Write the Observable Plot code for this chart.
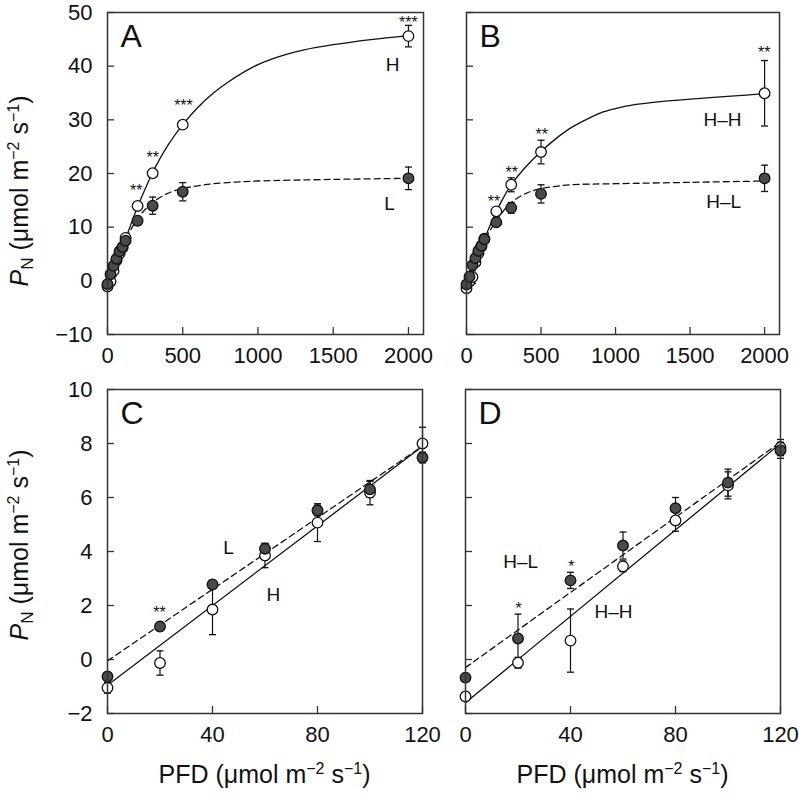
<!DOCTYPE html>
<html><head><meta charset="utf-8">
<script src="https://cdn.jsdelivr.net/npm/d3@7"></script>
<script src="https://cdn.jsdelivr.net/npm/@observablehq/plot@0.6"></script>
<style>
body{margin:0;background:#fff;}
#wrap{position:relative;width:799px;height:798px;background:#fff;}
#wrap svg{position:absolute;overflow:visible;}
</style></head><body><div id="wrap"></div>
<script>
// ---------- data ----------
const PFD = [0, 20, 40, 60, 80, 100, 120, 200, 300, 500, 2000];
// Panel A / C (plants grown at H and L)
const H_mean = [-1.05, -0.13, 1.85, 3.85, 5.07, 6.18, 8.0, 13.95, 20.05, 29.1, 45.6];
const H_err  = [0.2, 0.45, 0.93, 0.45, 0.7, 0.45, 0.6, 0.5, 0.6, 0.6, 2.0];
const L_mean = [-0.63, 1.22, 2.78, 4.1, 5.52, 6.3, 7.48, 11.2, 14.0, 16.6, 19.1];
const L_err  = [0.15, 0.15, 0.15, 0.2, 0.2, 0.3, 0.2, 0.5, 1.6, 1.7, 2.1];
// Panel B / D (H–H and H–L)
const HH_mean = [-1.37, -0.12, 0.7, 3.45, 5.15, 6.45, 7.85, 12.95, 17.9, 24.0, 34.95];
const HH_err  = [0.15, 0.2, 1.17, 0.2, 0.4, 0.5, 0.3, 0.6, 1.3, 2.2, 6.1];
const HL_mean = [-0.67, 0.78, 2.93, 4.22, 5.6, 6.55, 7.75, 10.9, 13.6, 16.2, 19.1];
const HL_err  = [0.15, 0.9, 0.3, 0.5, 0.4, 0.5, 0.3, 0.3, 1.0, 1.7, 2.45];

// fitted light-response curves
const fitX_A_H = [0, 50, 100, 150, 200, 250, 300, 400, 500, 600, 700, 800, 900, 1000, 1100, 1200, 1300, 1500, 1750, 2000];
const fitY_A_H = [-1.1, 2.6, 6.3, 10.1, 13.8, 17.1, 20.2, 25.2, 29.1, 32.3, 34.9, 37.0, 38.8, 40.3, 41.4, 42.3, 43.0, 44.0, 44.95, 45.7];
const fitX_A_L = [0, 50, 100, 150, 200, 250, 300, 400, 500, 600, 700, 850, 1000, 1500, 2000];
const fitY_A_L = [-0.7, 3.0, 6.5, 9.3, 11.6, 13.3, 14.6, 16.3, 17.2, 17.7, 18.1, 18.4, 18.6, 18.9, 19.1];
const fitX_B_HH = [0, 50, 100, 150, 200, 250, 300, 400, 500, 600, 700, 800, 900, 1000, 1100, 1300, 1550, 1800, 2000];
const fitY_B_HH = [-1.5, 2.3, 6.2, 9.8, 12.9, 15.6, 17.9, 21.3, 24.1, 26.5, 28.5, 30.0, 31.3, 32.1, 32.7, 33.4, 33.95, 34.45, 34.9];
const fitX_B_HL = [0, 50, 100, 150, 200, 250, 300, 400, 500, 600, 700, 1000, 1500, 2000];
const fitY_B_HL = [-0.7, 3.0, 6.5, 9.0, 11.2, 13.1, 14.6, 16.3, 17.2, 17.6, 17.9, 18.1, 18.35, 18.6];
// linear regressions at low PFD
const lineX = [0, 120];
const lineY_C_H = [-0.95, 7.9];
const lineY_C_L = [-0.05, 7.9];
const lineY_D_HH = [-1.6, 8.0];
const lineY_D_HL = [-0.3, 8.05];

// tick values
const xTicksTop = [0, 500, 1000, 1500, 2000];
const yTicksTop = [-10, 0, 10, 20, 30, 40, 50];
const xTicksBot = [0, 40, 80, 120];
const yTicksBot = [-2, 0, 2, 4, 6, 8, 10];

// significance marks and curve labels (data coordinates)
const starsA = [{x: 191, y: 17.6, t: "**"}, {x: 300, y: 23.7, t: "**"}, {x: 505, y: 33.4, t: "***"}, {x: 1999, y: 48.9, t: "***"}];
const starsB = [{x: 184, y: 15.5, t: "**"}, {x: 303, y: 20.9, t: "**"}, {x: 505, y: 28.0, t: "**"}, {x: 1998, y: 43.3, t: "**"}];
const starsC = [{x: 19.8, y: 1.89, t: "**"}];
const starsD = [{x: 20.2, y: 2.04, t: "*"}, {x: 40.3, y: 3.58, t: "*"}];
const labelsA = [{x: 1894, y: 40.3, t: "H"}, {x: 1874, y: 14.4, t: "L"}];
const labelsB = [{x: 1718, y: 29.9, t: "H–H"}, {x: 1725, y: 14.7, t: "H–L"}];
const labelsC = [{x: 46.1, y: 4.15, t: "L"}, {x: 63.2, y: 2.4, t: "H"}];
const labelsD = [{x: 21, y: 3.6, t: "H–L"}, {x: 56.4, y: 1.78, t: "H–H"}];

// ---------- helpers ----------
const FONT = '"Liberation Sans", Arial, Helvetica, sans-serif';
const INK = "#111";
const fmt = d3.format("d");
const rows = (xs, ys, es, n) => xs.slice(0, n).map((x, i) => ({x, y: ys[i], e: es ? es[i] : 0}));
const capSymbol = {draw(ctx, size) { const r = Math.sqrt(size / Math.PI); ctx.moveTo(-r, 0); ctx.lineTo(r, 0); }};
const wrap = document.getElementById("wrap");

function panel(o) {
  const plotW = o.width - o.mL - o.mR, plotH = o.height - o.mT - o.mB;
  const openPts = rows(PFD, o.open, o.openErr, o.n);
  const fillPts = rows(PFD, o.filled, o.filledErr, o.n);
  const errMarks = (pts) => [
    Plot.ruleX(pts, {x: "x", y1: d => d.y - d.e, y2: d => d.y + d.e, stroke: INK, strokeWidth: 1.2}),
    Plot.dot(pts, {x: "x", y: d => d.y + d.e, symbol: capSymbol, r: 3.5, stroke: INK, strokeWidth: 1.3, fill: "none"}),
    Plot.dot(pts, {x: "x", y: d => d.y - d.e, symbol: capSymbol, r: 3.5, stroke: INK, strokeWidth: 1.3, fill: "none"})
  ];
  const marks = [
    Plot.tickX(o.xTicks, {x: d => d, insetTop: plotH - 7, stroke: "#333", strokeWidth: 1.3}),
    Plot.tickY(o.yTicks, {y: d => d, insetRight: plotW - 7, stroke: "#333", strokeWidth: 1.3}),
    Plot.axisX({ticks: o.xTicks, tickSize: 0, tickPadding: 13, fontSize: 22, tickFormat: fmt, label: null, fill: INK}),
    ...(o.showY ? [Plot.axisY({ticks: o.yTicks, tickSize: 0, tickPadding: 15, fontSize: 22, tickFormat: fmt, label: null, fill: INK})] : []),
    Plot.line(o.fitOpen, {x: d => d[0], y: d => d[1], curve: "catmull-rom", stroke: INK, strokeWidth: 1.3}),
    Plot.line(o.fitFilled, {x: d => d[0], y: d => d[1], curve: "catmull-rom", stroke: INK, strokeWidth: 1.3, strokeDasharray: "6,4"}),
    ...errMarks(openPts),
    ...errMarks(fillPts),
    Plot.dot(openPts, {x: "x", y: "y", r: 5.3, fill: "white", stroke: INK, strokeWidth: 1.3}),
    Plot.dot(fillPts, {x: "x", y: "y", r: 5.3, fill: "#4a4a4a", stroke: INK, strokeWidth: 1.3}),
    Plot.text(o.stars, {x: "x", y: "y", text: "t", fontSize: 16, dy: 4, fill: INK}),
    Plot.text(o.labels, {x: "x", y: "y", text: "t", fontSize: 19, fill: INK}),
    Plot.text([o.letter], {frameAnchor: "top-left", dx: 13, dy: 12, lineAnchor: "top", textAnchor: "start", fontSize: 32, fill: INK}),
    Plot.frame({stroke: "#333", strokeWidth: 1.5})
  ];
  const svg = Plot.plot({
    width: o.width, height: o.height,
    marginLeft: o.mL, marginRight: o.mR, marginTop: o.mT, marginBottom: o.mB,
    x: {domain: o.xDomain, axis: null},
    y: {domain: o.yDomain, axis: null},
    style: {fontFamily: FONT, background: "transparent", overflow: "visible"},
    marks
  });
  svg.style.left = o.left + "px";
  svg.style.top = o.top + "px";
  const s = d3.select(svg);
  if (o.yTitle) {
    const t = s.append("text")
      .attr("transform", `translate(28,${o.yTitleY}) rotate(-90)`)
      .attr("text-anchor", "middle").attr("font-size", 25).attr("fill", INK).attr("font-family", FONT);
    t.append("tspan").attr("font-style", "italic").text("P");
    t.append("tspan").attr("font-size", 17).attr("dy", 5).text("N");
    t.append("tspan").attr("dy", -5).text(" (μmol m");
    t.append("tspan").attr("font-size", 16).attr("dy", -9).text("−2");
    t.append("tspan").attr("dy", 9).text(" s");
    t.append("tspan").attr("font-size", 16).attr("dy", -9).text("−1");
    t.append("tspan").attr("dy", 9).text(")");
  }
  if (o.xTitle) {
    const t = s.append("text")
      .attr("x", o.mL + plotW / 2).attr("y", o.mT + plotH + 70)
      .attr("text-anchor", "middle").attr("font-size", 25).attr("fill", INK).attr("font-family", FONT);
    t.append("tspan").text("PFD (μmol m");
    t.append("tspan").attr("font-size", 16).attr("dy", -9).text("−2");
    t.append("tspan").attr("dy", 9).text(" s");
    t.append("tspan").attr("font-size", 16).attr("dy", -9).text("−1");
    t.append("tspan").attr("dy", 9).text(")");
  }
  wrap.appendChild(svg);
}

const zip = (xs, ys) => xs.map((x, i) => [x, ys[i]]);

panel({left: 0, top: 0, width: 440, height: 380, mL: 107, mR: 17, mT: 12, mB: 46,
  xDomain: [0, 2100], yDomain: [-10, 50], xTicks: xTicksTop, yTicks: yTicksTop, showY: true,
  letter: "A", n: PFD.length, open: H_mean, openErr: H_err, filled: L_mean, filledErr: L_err,
  fitOpen: zip(fitX_A_H, fitY_A_H), fitFilled: zip(fitX_A_L, fitY_A_L),
  stars: starsA, labels: labelsA, yTitle: true, yTitleY: 191});

panel({left: 440, top: 0, width: 359, height: 380, mL: 26, mR: 20, mT: 12, mB: 46,
  xDomain: [0, 2100], yDomain: [-10, 50], xTicks: xTicksTop, yTicks: yTicksTop, showY: false,
  letter: "B", n: PFD.length, open: HH_mean, openErr: HH_err, filled: HL_mean, filledErr: HL_err,
  fitOpen: zip(fitX_B_HH, fitY_B_HH), fitFilled: zip(fitX_B_HL, fitY_B_HL),
  stars: starsB, labels: labelsB});

panel({left: 0, top: 380, width: 440, height: 418, mL: 107, mR: 18, mT: 9, mB: 85,
  xDomain: [0, 120], yDomain: [-2, 10], xTicks: xTicksBot, yTicks: yTicksBot, showY: true,
  letter: "C", n: 7, open: H_mean, openErr: H_err, filled: L_mean, filledErr: L_err,
  fitOpen: zip(lineX, lineY_C_H), fitFilled: zip(lineX, lineY_C_L),
  stars: starsC, labels: labelsC, yTitle: true, yTitleY: 165, xTitle: true});

panel({left: 440, top: 380, width: 359, height: 418, mL: 25, mR: 19, mT: 9, mB: 85,
  xDomain: [0, 120], yDomain: [-2, 10], xTicks: xTicksBot, yTicks: yTicksBot, showY: false,
  letter: "D", n: 7, open: HH_mean, openErr: HH_err, filled: HL_mean, filledErr: HL_err,
  fitOpen: zip(lineX, lineY_D_HH), fitFilled: zip(lineX, lineY_D_HL),
  stars: starsD, labels: labelsD, xTitle: true});
</script>
</body></html>
